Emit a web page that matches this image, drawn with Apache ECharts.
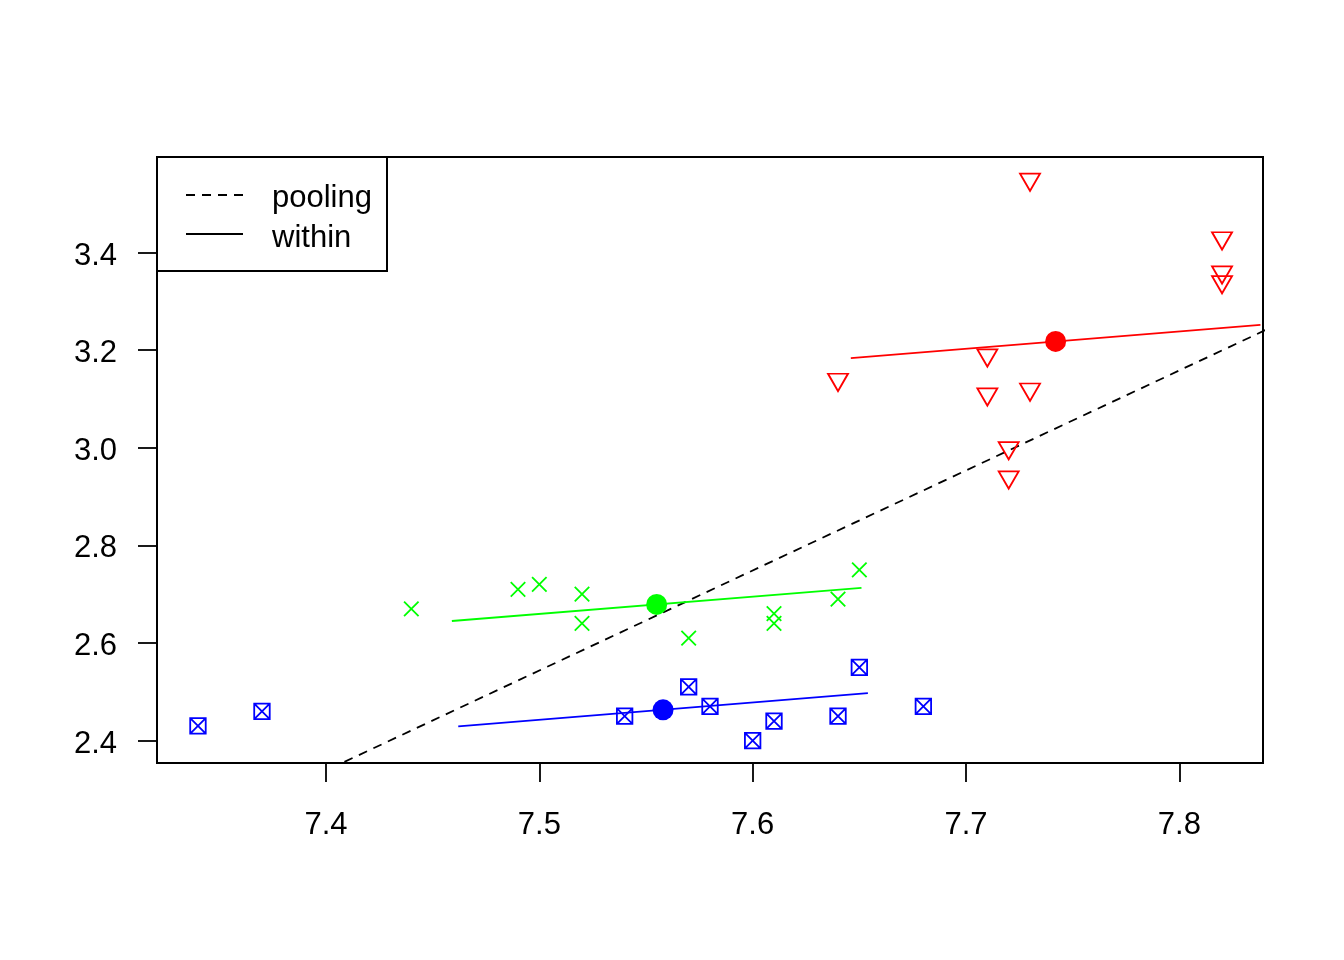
<!DOCTYPE html>
<html>
<head>
<meta charset="utf-8">
<script src="https://cdn.jsdelivr.net/npm/echarts@6/dist/echarts.min.js"></script>
<style>
html,body{margin:0;padding:0;background:#fff;}
#chart{width:1344px;height:960px;}
</style>
</head>
<body>
<div id="chart"></div>
<script>
// ---- data ----
var redX   = [7.73, 7.82, 7.82, 7.82, 7.71, 7.64, 7.71, 7.73, 7.72, 7.72];
var redY   = [3.55, 3.43, 3.36, 3.34, 3.19, 3.14, 3.11, 3.12, 3.00, 2.94];
var greenX = [7.44, 7.49, 7.50, 7.52, 7.52, 7.57, 7.61, 7.61, 7.64, 7.65];
var greenY = [2.67, 2.71, 2.72, 2.70, 2.64, 2.61, 2.66, 2.64, 2.69, 2.75];
var blueX  = [7.34, 7.37, 7.54, 7.57, 7.58, 7.60, 7.61, 7.64, 7.65, 7.68];
var blueY  = [2.43, 2.46, 2.45, 2.51, 2.47, 2.40, 2.44, 2.45, 2.55, 2.47];

var meanX = [7.742, 7.555, 7.558];
var meanY = [3.218, 2.679, 2.463];

// within-group line segments (endpoints)
var redLineX   = [7.646, 7.838];
var redLineY   = [3.184, 3.252];
var greenLineX = [7.459, 7.651];
var greenLineY = [2.645, 2.713];
var blueLineX  = [7.462, 7.654];
var blueLineY  = [2.429, 2.497];

// pooled line (endpoints beyond the plot; clipped)
var poolLineX = [7.30, 7.85];
var poolLineY = [2.1336, 3.2611];

var xTicks = [7.4, 7.5, 7.6, 7.7, 7.8];
var yTicks = [2.4, 2.6, 2.8, 3.0, 3.2, 3.4];
var xRange = [7.3208, 7.8392];
var yRange = [2.354, 3.596];

var legendNames = ['pooling', 'within'];

function pairs(xs, ys) { return xs.map(function (x, i) { return [x, ys[i]]; }); }

var FONT = 'Liberation Sans, Arial, sans-serif';
var chart = echarts.init(document.getElementById('chart'), null, {renderer: 'canvas'});

var option = {
  animation: false,
  backgroundColor: '#fff',
  grid: {left: 157, right: 81, top: 157, bottom: 197, show: true,
         borderColor: '#000', borderWidth: 2, backgroundColor: 'transparent'},
  xAxis: {
    type: 'value', min: xRange[0], max: xRange[1],
    axisLine: {show: false},
    splitLine: {show: false},
    axisTick: {show: true, inside: false, length: 19, customValues: xTicks,
               lineStyle: {color: '#000', width: 1.8}},
    axisLabel: {show: true, customValues: xTicks, margin: 47, fontSize: 31,
                fontFamily: FONT, color: '#000',
                formatter: function (v) { return v.toFixed(1); }}
  },
  yAxis: {
    type: 'value', min: yRange[0], max: yRange[1],
    axisLine: {show: false},
    splitLine: {show: false},
    axisTick: {show: true, inside: false, length: 19, customValues: yTicks,
               lineStyle: {color: '#000', width: 1.8}},
    axisLabel: {show: true, customValues: yTicks, margin: 40, fontSize: 31,
                fontFamily: FONT, color: '#000',
                formatter: function (v) { return '{v|' + v.toFixed(1) + '}'; },
                rich: {v: {fontSize: 31, fontFamily: FONT, color: '#000', padding: [7, 0, 0, 0]}}}
  },
  series: [
    {name: 'pooling', type: 'line', data: pairs(poolLineX, poolLineY), symbol: 'none', clip: true,
     lineStyle: {color: '#000', width: 1.8, type: [9, 7]}, z: 3},
    {name: 'redLine', type: 'line', data: pairs(redLineX, redLineY), symbol: 'none',
     lineStyle: {color: '#FF0000', width: 1.8}, z: 3},
    {name: 'greenLine', type: 'line', data: pairs(greenLineX, greenLineY), symbol: 'none',
     lineStyle: {color: '#00FF00', width: 1.8}, z: 3},
    {name: 'blueLine', type: 'line', data: pairs(blueLineX, blueLineY), symbol: 'none',
     lineStyle: {color: '#0000FF', width: 1.8}, z: 3},
    {name: 'red', type: 'scatter', data: pairs(redX, redY),
     symbol: 'path://M0,0L20,0L10,17.3Z', symbolSize: [20, 17.3], symbolOffset: [0, 2.9],
     itemStyle: {color: 'rgba(0,0,0,0)', borderColor: '#FF0000', borderWidth: 1.8, opacity: 1}, z: 4},
    {name: 'green', type: 'scatter', data: pairs(greenX, greenY),
     symbol: 'path://M0,0L10,10M10,0L0,10', symbolSize: [14.5, 14.5],
     itemStyle: {color: 'rgba(0,0,0,0)', borderColor: '#00FF00', borderWidth: 1.8, opacity: 1}, z: 4},
    {name: 'blue', type: 'scatter', data: pairs(blueX, blueY),
     symbol: 'path://M0,0L10,0L10,10L0,10ZM0,0L10,10M10,0L0,10', symbolSize: [15.5, 15.5],
     itemStyle: {color: 'rgba(0,0,0,0)', borderColor: '#0000FF', borderWidth: 1.8, opacity: 1}, z: 4},
    {name: 'means', type: 'scatter', symbol: 'circle', symbolSize: 21, z: 5,
     itemStyle: {opacity: 1},
     data: [
       {value: [meanX[0], meanY[0]], itemStyle: {color: '#FF0000', opacity: 1}},
       {value: [meanX[1], meanY[1]], itemStyle: {color: '#00FF00', opacity: 1}},
       {value: [meanX[2], meanY[2]], itemStyle: {color: '#0000FF', opacity: 1}}
     ]}
  ],
  graphic: [
    {type: 'rect', z: 100, shape: {x: 157, y: 157, width: 230, height: 114},
     style: {fill: '#fff', stroke: '#000', lineWidth: 2}},
    {type: 'line', z: 101, shape: {x1: 186, y1: 195, x2: 243, y2: 195},
     style: {stroke: '#000', lineWidth: 1.8, lineDash: [9, 7]}},
    {type: 'line', z: 101, shape: {x1: 186, y1: 234, x2: 243, y2: 234},
     style: {stroke: '#000', lineWidth: 1.8}},
    {type: 'text', z: 101, x: 272, y: 198,
     style: {text: legendNames[0], font: '31px ' + FONT, fill: '#000', verticalAlign: 'middle', align: 'left'}},
    {type: 'text', z: 101, x: 272, y: 238,
     style: {text: legendNames[1], font: '31px ' + FONT, fill: '#000', verticalAlign: 'middle', align: 'left'}}
  ]
};
chart.setOption(option);
</script>
</body>
</html>
